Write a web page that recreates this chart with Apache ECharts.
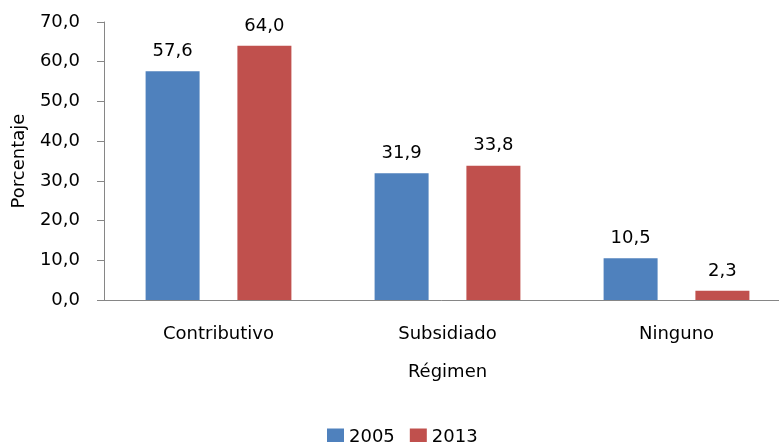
<!DOCTYPE html>
<html>
<head>
<meta charset="utf-8">
<script src="https://cdn.jsdelivr.net/npm/echarts@6/dist/echarts.min.js"></script>
<style>
  html, body { margin: 0; padding: 0; background: #fff; }
  #chart { width: 779px; height: 442px; }
</style>
</head>
<body>
<div id="chart"></div>
<script>
// datos
var categorias = ["Contributivo", "Subsidiado", "Ninguno"];
var serie2005 = [57.6, 31.9, 10.5];
var serie2013 = [64.0, 33.8, 2.3];
var anios = ["2005", "2013"];

// formato con coma decimal
function fmt(v) {
  return Number(v).toFixed(1).replace(".", ",");
}

var chart = echarts.init(document.getElementById("chart"));
var fuente = "DejaVu Sans";

chart.setOption({
  animation: false,
  textStyle: { fontFamily: fuente },
  legend: {
    data: anios,
    top: 423,
    left: 322,
    itemWidth: 17,
    itemHeight: 17,
    itemGap: 15,
    icon: "rect",
    textStyle: { fontFamily: fuente, fontSize: 18, color: "#000" }
  },
  // el area del grafico sigue un poco mas alla del borde derecho
  grid: {
    left: 104,
    width: 687,
    top: 22,
    bottom: 142,
    outerBoundsMode: "none",
    containLabel: false
  },
  xAxis: {
    type: "category",
    data: categorias,
    name: "Régimen",
    nameLocation: "middle",
    nameGap: 63,
    nameTextStyle: { fontFamily: fuente, fontSize: 18, color: "#000" },
    axisLine: { lineStyle: { color: "#868686", width: 1 } },
    axisTick: { show: false },
    axisLabel: { margin: 25, fontFamily: fuente, fontSize: 18, color: "#000" }
  },
  yAxis: {
    type: "value",
    min: 0,
    max: 70,
    interval: 10,
    name: "Porcentaje",
    nameLocation: "middle",
    nameRotate: 90,
    nameGap: 76,
    nameTextStyle: { fontFamily: fuente, fontSize: 18, color: "#000" },
    axisLine: { show: true, lineStyle: { color: "#868686", width: 1 } },
    axisTick: { show: true, length: 7, lineStyle: { color: "#868686" } },
    splitLine: { show: false },
    axisLabel: {
      margin: 24,
      fontFamily: fuente,
      fontSize: 18,
      color: "#000",
      formatter: fmt
    }
  },
  series: [
    {
      name: anios[0],
      type: "bar",
      data: serie2005,
      barWidth: 54,
      barGap: "70%",
      itemStyle: { color: "#4F81BD" },
      label: {
        show: true,
        position: "top",
        distance: 11,
        fontFamily: fuente,
        fontSize: 18,
        color: "#000",
        formatter: function (p) { return fmt(p.value); }
      }
    },
    {
      name: anios[1],
      type: "bar",
      data: serie2013,
      barWidth: 54,
      barGap: "70%",
      itemStyle: { color: "#C0504D" },
      label: {
        show: true,
        position: "top",
        distance: 11,
        fontFamily: fuente,
        fontSize: 18,
        color: "#000",
        formatter: function (p) { return fmt(p.value); }
      }
    }
  ]
});
</script>
</body>
</html>
